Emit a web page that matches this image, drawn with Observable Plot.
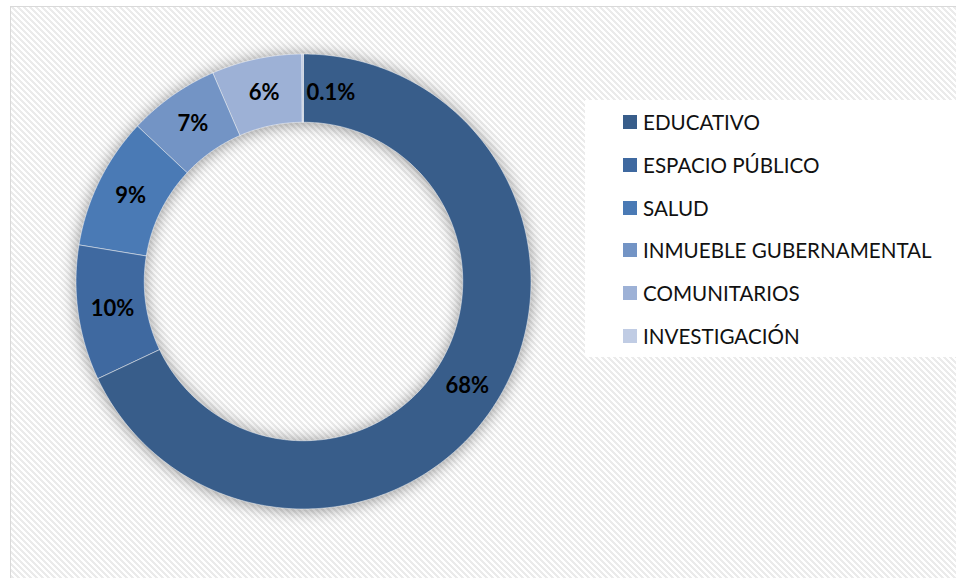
<!DOCTYPE html>
<html><head><meta charset="utf-8">
<script src="https://cdn.jsdelivr.net/npm/d3@7"></script>
<script src="https://cdn.jsdelivr.net/npm/@observablehq/plot@0.6"></script>
<style>
html,body{margin:0;padding:0;background:#fff;width:956px;height:578px;overflow:hidden;font-family:Lato,sans-serif}
#frame{position:absolute;left:10px;top:6px;width:960px;height:600px;border:1.5px solid #d9d9d9;
  background:repeating-linear-gradient(45deg,#ebebeb 0,#ebebeb 2.1px,#ffffff 2.1px,#ffffff 4.24px)}
#chart{position:absolute;left:0;top:0}
#legend{position:absolute;left:585px;top:100px;width:371px;height:257px;background:#fff}
.item{position:absolute;left:38px;height:24px;display:flex;align-items:center;font-size:20.6px;color:#111;white-space:nowrap}
.sw{width:14px;height:14px;margin-right:6px;flex:none}
</style>
</head><body>
<div id="frame"></div>
<div id="chart"></div>
<div id="legend"></div>
<script>
const categories = ["EDUCATIVO","ESPACIO PÚBLICO","SALUD","INMUEBLE GUBERNAMENTAL","COMUNITARIOS","INVESTIGACIÓN"];
const values = [68.0, 9.6, 9.4, 6.5, 6.4, 0.1];
const labels = ["68%","10%","9%","7%","6%","0.1%"];
const colors = ["#385d8a","#3f69a0","#4a7ab5","#7394c5","#9db1d6","#c0cce4"];

const total = d3.sum(values);
const inner = 0.70, outer = 1, mid = (inner + outer) / 2;
let acc = 0;
const arcPts = [], labelPts = [];
categories.forEach((c, i) => {
  const a0 = acc / total * 2 * Math.PI; acc += values[i]; const a1 = acc / total * 2 * Math.PI;
  const n = Math.max(2, Math.ceil((a1 - a0) / (Math.PI / 180)));
  for (let k = 0; k <= n; k++) {
    const a = a0 + (a1 - a0) * k / n;
    arcPts.push({cat: c, x1: outer * Math.sin(a), y1: outer * Math.cos(a), x2: inner * Math.sin(a), y2: inner * Math.cos(a)});
  }
  const am = (a0 + a1) / 2;
  labelPts.push({cat: c, label: labels[i], x: mid * Math.sin(am), y: mid * Math.cos(am), small: values[i] < 1});
});

const plot = Plot.plot({
  width: 956, height: 578, margin: 0,
  style: {background: "transparent", overflow: "visible"},
  x: {domain: [-1, 1], range: [76, 531], axis: null},
  y: {domain: [-1, 1], range: [509, 54], axis: null},
  color: {domain: categories, range: colors},
  marks: [
    Plot.area(arcPts, {x1: "x1", y1: "y1", x2: "x2", y2: "y2", z: "cat", fill: "cat", stroke: "white", strokeOpacity: 0.6, strokeWidth: 0.8}),
    Plot.text(labelPts.filter(d => !d.small), {x: "x", y: "y", text: "label", fontSize: 22, fontWeight: "bold", fontFamily: "Lato", fill: "#000", textAnchor: "middle"}),
    Plot.text(labelPts.filter(d => d.small), {x: "x", y: "y", text: "label", fontSize: 22, fontWeight: "bold", fontFamily: "Lato", fill: "#000", textAnchor: "start", dx: 3, dy: 4})
  ]
});
const ag = plot.querySelector('g[aria-label="area"]');
if (ag) ag.style.filter = "drop-shadow(0px 1px 8px rgba(0,0,0,0.42))";
document.getElementById("chart").appendChild(plot);

const color = plot.scale("color");
const leg = document.getElementById("legend");
categories.forEach((c, i) => {
  const it = document.createElement("div");
  it.className = "item";
  it.style.top = (22 + i * 42.8 - 12) + "px";
  const sw = document.createElement("span");
  sw.className = "sw"; sw.style.background = color.apply(c);
  const tx = document.createElement("span"); tx.textContent = c;
  it.appendChild(sw); it.appendChild(tx); leg.appendChild(it);
});
</script>
</body></html>
